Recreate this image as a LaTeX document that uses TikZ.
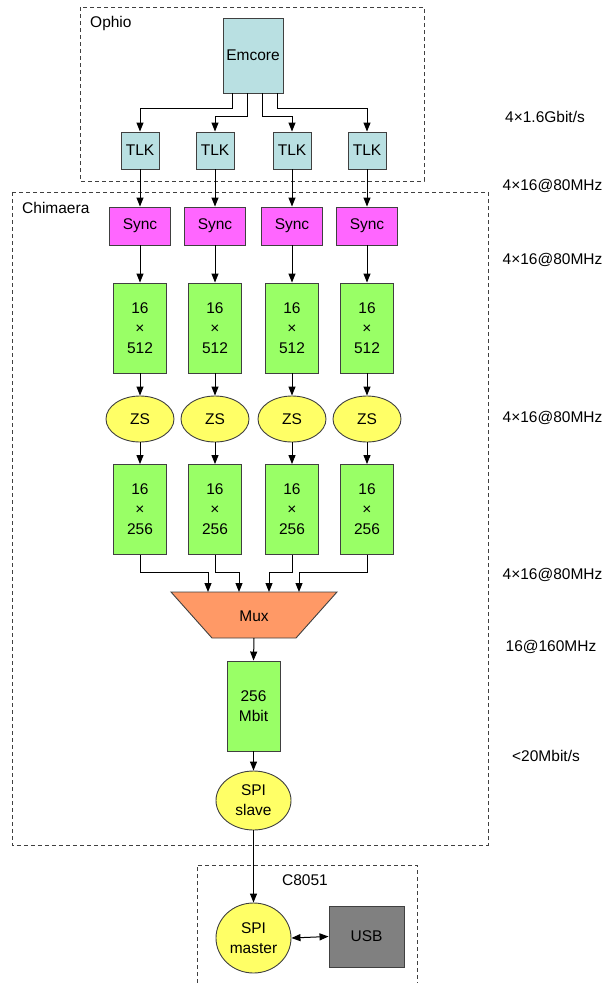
\documentclass[tikz,border=0pt]{standalone}
\usepackage{fontspec}
\setmainfont{Liberation Sans}
\usetikzlibrary{arrows.meta,calc,shapes.geometric}

\definecolor{cyanbox}{RGB}{185,224,226}
\definecolor{syncfill}{RGB}{255,102,255}
\definecolor{memfill}{RGB}{153,255,102}
\definecolor{ellfill}{RGB}{255,255,102}
\definecolor{muxfill}{RGB}{255,153,102}
\definecolor{usbfill}{RGB}{128,128,128}
\definecolor{edgegray}{RGB}{64,64,64}

\tikzset{
  every node/.style={font=\fontsize{15.5}{20}\selectfont, inner sep=0pt},
  box/.style={draw=edgegray, line width=0.9pt, align=center},
  tlkbox/.style={box, fill=cyanbox, minimum width=38pt, minimum height=37pt},
  syncbox/.style={box, fill=syncfill, minimum width=61pt, minimum height=38pt},
  membox/.style={box, fill=memfill, minimum width=53pt, minimum height=90pt},
  oval/.style={ellipse, draw=edgegray, line width=0.9pt, fill=ellfill, align=center},
  group/.style={draw=edgegray, line width=0.9pt, dash pattern=on 4pt off 3pt},
  arr/.style={line width=1pt, -{Triangle[length=9pt,width=7pt]}},
  dblarr/.style={line width=1pt, {Triangle[length=9pt,width=7pt]}-{Triangle[length=9pt,width=7pt]}},
  rate/.style={anchor=center},
}

\begin{document}
\begin{tikzpicture}[x=1pt,y=-1pt]
\useasboundingbox (0,0) rectangle (606,983);

% group frames
\draw[group] (80,7) rectangle (424,181);
\draw[group] (12,192) rectangle (488,845);
\draw[group] (197,983) -- (197,865) -- (417,865) -- (417,983);
\node[anchor=west] (lophio) at (90,23) {Ophio};
\node[anchor=west] (lchim) at (22,208) {Chimaera};
\node (lc8051) at (305,880) {C8051};

% Ophio
\node[box, fill=cyanbox, minimum width=60pt, minimum height=75pt] (emcore) at (253,55.5) {Emcore};
\foreach \i/\x in {1/140,2/215,3/292,4/367}{
  \node[tlkbox] (tlk\i) at (\x,150.5) {TLK};
  \node[syncbox] (sync\i) at (\x,226) {Sync};
  \node[membox] (ma\i) at (\x,328) {16\\×\\512};
  \node[oval, minimum width=68pt, minimum height=46pt] (zs\i) at (\x,419) {ZS};
  \node[membox] (mb\i) at (\x,509.5) {16\\×\\256};
}

% Emcore fan-out to the transceivers
\coordinate (e1) at (232,93);
\coordinate (e2) at (247,93);
\coordinate (e3) at (262,93);
\coordinate (e4) at (277,93);
\draw[arr] (e1) -- (232,108) -| (tlk1.north);
\draw[arr] (e2) -- (247,116) -| (tlk2.north);
\draw[arr] (e3) -- (262,116) -| (tlk3.north);
\draw[arr] (e4) -- (277,108) -| (tlk4.north);

% per-channel pipeline
\foreach \i in {1,2,3,4}{
  \draw[arr] (tlk\i.south) -- (sync\i.north);
  \draw[arr] (sync\i.south) -- (ma\i.north);
  \draw[arr] (ma\i.south) -- (zs\i.north);
  \draw[arr] (zs\i.south) -- (mb\i.north);
}

% multiplexer
\coordinate (mxTL) at (171,592);
\coordinate (mxTR) at (337,592);
\coordinate (mxBR) at (296,638);
\coordinate (mxBL) at (212,638);
\draw[fill=muxfill, draw=edgegray, line width=0.9pt] (mxTL) -- (mxTR) -- (mxBR) -- (mxBL) -- cycle;
\node (mux) at (254,616) {Mux};
\coordinate (m1) at (208,592);
\coordinate (m2) at (239,592);
\coordinate (m3) at (269,592);
\coordinate (m4) at (299,592);
\coordinate (mout) at (254,638);
\foreach \i in {1,2,3,4}{
  \draw[arr] (mb\i.south) -- ($(mb\i.south)+(0,18)$) -| (m\i);
}

% storage and SPI link
\node[membox] (mem) at (253.5,706) {256\\Mbit};
\node[oval, minimum width=75pt, minimum height=59pt] (spis) at (253.5,800.5) {SPI\\slave};
\node[oval, minimum width=75pt, minimum height=70pt] (spim) at (253.5,938) {SPI\\master};
\node[box, fill=usbfill, minimum width=75pt, minimum height=61pt] (usb) at (366.5,936.5) {USB};
\draw[arr] (mout) -- (mem.north);
\draw[arr] (mem.south) -- (spis.north);
\draw[arr] (spis.south) -- (spim.north);
\draw[dblarr] (spim.east) -- (usb.west);

% data rates
\node[rate] (r1) at (545,117) {4×1.6Gbit/s};
\node[rate] (r2) at (552.5,186) {4×16@80MHz};
\node[rate] (r3) at (552.5,260) {4×16@80MHz};
\node[rate] (r4) at (552.5,418) {4×16@80MHz};
\node[rate] (r5) at (552.5,575) {4×16@80MHz};
\node[rate] (r6) at (551,647) {16@160MHz};
\node[rate] (r7) at (546,756) {<20Mbit/s};
\end{tikzpicture}
\end{document}
